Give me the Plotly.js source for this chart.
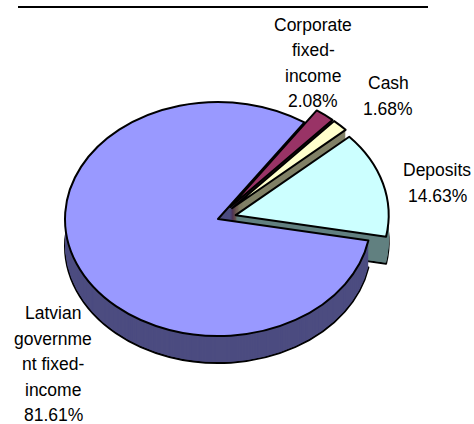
<!DOCTYPE html>
<html>
<head>
<meta charset="utf-8">
<script src="https://cdn.plot.ly/plotly-3.0.1.min.js"></script>
<style>
  html, body { margin: 0; padding: 0; background: #ffffff; }
  #chart { width: 474px; height: 424px; }
  .pielayer path { vector-effect: non-scaling-stroke; }
</style>
</head>
<body>
<div id="chart"></div>
<script>
// ---- data (clockwise order, starting after the big slice) ----
const categories = ['Corporate fixed-income', 'Cash', 'Deposits', 'Latvian government fixed-income'];
const shares = [2.08, 1.68, 14.63, 81.61];
const labelLines = [
  ['Corporate', 'fixed-', 'income'],
  ['Cash'],
  ['Deposits'],
  ['Latvian', 'governme', 'nt fixed-', 'income']
];
const explode = [0.13, 0.13, 0.12, 0];
const topColors = ['#993366', '#FFFFCC', '#CCFFFF', '#9999FF'];
const sideColors = ['#4D1A33', '#808066', '#628080', '#4C4C80'];

// ---- layout geometry ----
const W = 474, H = 424;
const S = 0.765;          // vertical squash of the pie (tilt)
const R = 153;            // radius in px
const CX = 218, CYTOP = 219, DEPTH = 27;
const PULLMAX = Math.max(...explode);
const HALF = R * (1 + PULLMAX);
const UT = 196;
const CY0 = (UT - CYTOP / S) / (1 - 1 / S);

function layerTrace(d, colors, lineW) {
  const u = CY0 + (CYTOP + d - CY0) / S;
  return {
    type: 'pie',
    labels: categories,
    values: shares,
    sort: false,
    direction: 'clockwise',
    rotation: 34.4,
    pull: explode,
    textinfo: 'none',
    hoverinfo: 'skip',
    showlegend: false,
    marker: { colors: colors, line: { color: '#000000', width: lineW } },
    domain: {
      x: [(CX - HALF) / W, (CX + HALF) / W],
      y: [1 - (u + HALF) / H, 1 - (u - HALF) / H]
    }
  };
}

const traces = [];
traces.push(layerTrace(DEPTH, sideColors, 2));
for (let d = DEPTH - 1; d > 0; d--) traces.push(layerTrace(d, sideColors, 0));
traces.push(layerTrace(0, topColors, 2));

// label anchor positions (px, centre of first line) and line pitch
const labelPos = [[313, 25], [388, 83], [437, 170], [53, 313]];
const PITCH = 25.5;
const annotations = [];
categories.forEach((c, i) => {
  const lines = labelLines[i].concat([shares[i].toFixed(2) + '%']);
  lines.forEach((t, j) => {
    annotations.push({
      text: t, showarrow: false, xref: 'paper', yref: 'paper',
      x: labelPos[i][0] / W, y: 1 - (labelPos[i][1] + j * PITCH) / H,
      xanchor: 'center', yanchor: 'middle',
      font: { family: 'Arial, "Liberation Sans", sans-serif', size: 17.5, color: '#000000' }
    });
  });
});

const layout = {
  width: W, height: H,
  margin: { l: 0, r: 0, t: 0, b: 0 },
  paper_bgcolor: '#ffffff',
  plot_bgcolor: '#ffffff',
  showlegend: false,
  annotations: annotations,
  shapes: [{
    type: 'line', xref: 'paper', yref: 'paper',
    x0: 18 / W, x1: 428 / W, y0: 1 - 7 / H, y1: 1 - 7 / H,
    line: { color: '#000000', width: 2 }
  }]
};

Plotly.newPlot('chart', traces, layout, { staticPlot: true, displayModeBar: false }).then(gd => {
  const pl = gd.querySelector('.pielayer');
  if (pl) pl.setAttribute('transform', 'matrix(1,0,0,' + S + ',0,' + (CY0 * (1 - S)) + ')');
});
</script>
</body>
</html>
